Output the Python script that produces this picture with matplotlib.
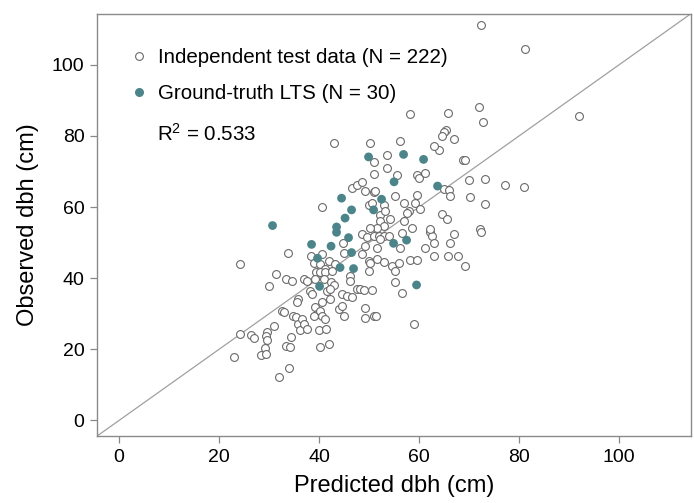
import matplotlib.pyplot as plt
from matplotlib.lines import Line2D

plt.rcParams['font.family'] = ['Liberation Sans', 'DejaVu Sans']
plt.rcParams['mathtext.fontset'] = 'custom'
plt.rcParams['mathtext.rm'] = 'Liberation Sans'
plt.rcParams['mathtext.it'] = 'Liberation Sans'

# independent test data: predicted vs observed dbh (cm)
test_pred = [
    33.8, 24.2, 31.4, 29.9, 33.4, 34.5, 35.7, 35.5, 32.6, 32.9, 34.7, 35.4, 35.7, 36.1, 24.2,
    26.3, 27.0, 29.5, 29.3, 29.5, 31.0, 34.3, 33.3, 34.1, 29.1, 28.3, 29.3, 22.9, 33.9, 31.9,
    44.7, 44.9, 38.3, 40.5, 38.9, 40.2, 41.9, 41.2, 43.2, 39.4, 40.2, 41.2, 42.5, 39.2, 40.9,
    46.2, 46.1, 42.3, 42.9, 36.9, 37.5, 38.2, 38.5, 41.5, 42.2, 44.5, 45.5, 46.5, 39.2, 40.5,
    42.2, 43.9, 44.5, 39.5, 40.2, 40.5, 41.2, 38.9, 36.5, 36.9, 37.5, 39.9, 41.4, 44.9, 40.2,
    41.9, 47.5,
    48.5, 49.5, 50.9, 51.9, 52.9, 52.2, 53.9, 56.5, 62.2, 62.5, 62.9, 61.2, 63.0, 56.2, 49.2,
    51.5, 48.5, 49.9, 50.2, 51.5, 52.9, 54.5, 55.2, 55.9, 58.2, 59.5, 49.9, 55.2, 56.5, 48.2,
    48.9, 50.5, 49.2, 49.2, 50.9, 51.4, 58.9,
    40.5,
    50.9, 53.5, 50.9, 53.5, 46.5, 47.5, 48.5, 49.2, 50.9, 51.2, 52.9, 49.9, 50.5, 52.2, 53.2,
    52.2, 52.9, 51.5, 50.2,
    55.5, 59.5, 59.9, 61.2, 64.9, 65.9, 66.2, 59.5, 55.2, 56.9, 59.2, 60.2, 57.9, 57.5, 56.9,
    58.5, 64.5, 65.5, 54.2, 63.9,
    65.4, 65.0, 64.5, 66.9, 63.0, 68.7, 69.1, 69.9, 73.1, 77.1, 80.9, 70.2, 73.1, 62.2, 72.2,
    71.9, 65.7, 72.7,
    72.4, 81.2, 58.2, 42.9, 50.2, 56.2,
    67.0, 72.4, 66.2, 65.7, 67.7, 69.1,
    92.0,
]
test_obs = [
    47.2, 44.1, 41.1, 37.9, 39.9, 39.1, 34.2, 33.3, 30.9, 30.5, 29.5, 29.1, 27.2, 25.3, 24.4,
    24.0, 23.2, 24.9, 23.8, 22.6, 26.6, 23.5, 21.0, 20.6, 20.3, 18.4, 18.6, 17.9, 14.7, 12.3,
    50.0, 47.2, 46.2, 46.7, 44.4, 43.9, 44.8, 42.5, 43.9, 41.6, 41.8, 41.6, 42.1, 39.9, 39.7,
    40.7, 39.3, 39.0, 38.1, 39.7, 39.3, 36.5, 35.6, 36.5, 37.0, 35.6, 35.1, 34.6, 31.9, 33.3,
    34.2, 31.4, 32.3, 30.0, 30.9, 29.4, 28.6, 29.4, 28.6, 27.2, 25.8, 25.3, 25.8, 29.5, 20.7,
    21.6, 37.0,
    52.3, 51.6, 51.8, 52.0, 51.8, 50.9, 51.8, 52.6, 52.9, 51.8, 49.8, 48.6, 46.1, 48.6, 49.0,
    48.6, 46.7, 44.8, 44.2, 45.3, 44.6, 43.5, 42.1, 44.4, 45.1, 45.1, 42.1, 39.0, 35.8, 37.0,
    36.8, 36.8, 31.6, 28.9, 29.4, 29.5, 27.0,
    59.9,
    72.7, 74.6, 69.3, 70.9, 65.3, 66.2, 67.1, 64.6, 64.3, 64.6, 60.6, 60.6, 61.1, 57.9, 58.8,
    56.0, 54.6, 54.2, 54.2,
    69.0, 69.0, 68.1, 69.5, 65.0, 64.8, 63.0, 63.4, 63.0, 61.1, 61.1, 59.4, 58.8, 58.3, 56.0,
    54.2, 58.1, 56.7, 56.7, 76.0,
    81.7, 81.1, 79.9, 79.2, 77.1, 73.2, 73.2, 67.6, 68.0, 66.1, 65.7, 62.7, 61.0, 53.7, 53.7,
    88.0, 86.4, 83.9,
    111.3, 104.5, 86.2, 78.0, 78.0, 78.5,
    52.5, 52.9, 50.0, 46.1, 46.1, 43.3,
    85.5,
]

# ground-truth LTS trees
lts_pred = [43.5, 45.9, 38.5, 42.4, 39.7, 46.5, 44.2, 46.9, 40.1, 54.9, 57.5, 59.5, 30.7,
            49.9, 44.5, 46.5, 50.9, 52.5, 45.2, 43.5, 56.9, 60.9, 55.0, 63.7]
lts_obs = [52.9, 51.4, 49.5, 49.0, 45.6, 47.2, 43.0, 42.7, 37.7, 49.8, 50.7, 38.1, 54.8,
           74.1, 62.5, 59.2, 59.2, 62.2, 56.9, 54.4, 74.8, 73.4, 67.1, 65.9]

r2_label = r'R$^2$ = 0.533'
ticks = [0, 20, 40, 60, 80, 100]

fig = plt.figure(figsize=(6.94, 5.03), dpi=100)
ax = fig.add_axes([0.1398, 0.133, 0.856, 0.840])

ax.axline((0, 0), slope=1, color='#a0a0a0', lw=0.9, zorder=1)
ax.scatter(test_pred, test_obs, s=32, facecolors='white', edgecolors='#6a6a6a',
           linewidths=0.8, zorder=2)
ax.scatter(lts_pred, lts_obs, s=40, color='#4b8489', edgecolors='none', zorder=3)

ax.set_xlim(-4.4, 114.4)
ax.set_ylim(-4.4, 114.4)
ax.set_xticks(ticks)
ax.set_yticks(ticks)
ax.tick_params(direction='out', length=5, width=0.9, color='#888888',
               labelsize=14, pad=4)
for sp in ax.spines.values():
    sp.set_color('#8a8a8a')
    sp.set_linewidth(1.0)

ax.set_xlabel('Predicted dbh (cm)', fontsize=17, labelpad=7)
ax.set_ylabel('Observed dbh (cm)', fontsize=17, labelpad=9)

handles = [
    Line2D([], [], marker='o', ls='none', markersize=5.6, markerfacecolor='white',
           markeredgecolor='#6a6a6a', markeredgewidth=0.8),
    Line2D([], [], marker='o', ls='none', markersize=6.5, markerfacecolor='#4b8489',
           markeredgecolor='none'),
]
labels = ['Independent test data (N = 222)', 'Ground-truth LTS (N = 30)']
ax.legend(handles, labels, loc='upper left', bbox_to_anchor=(0.04, 0.937),
          frameon=False, fontsize=14.8, handletextpad=0.4, labelspacing=0.8,
          handlelength=1.0, borderaxespad=0)
ax.text(0.101, 0.716, r2_label, transform=ax.transAxes, fontsize=14.8,
        va='center', ha='left')

fig.savefig('out.png', dpi=100)
